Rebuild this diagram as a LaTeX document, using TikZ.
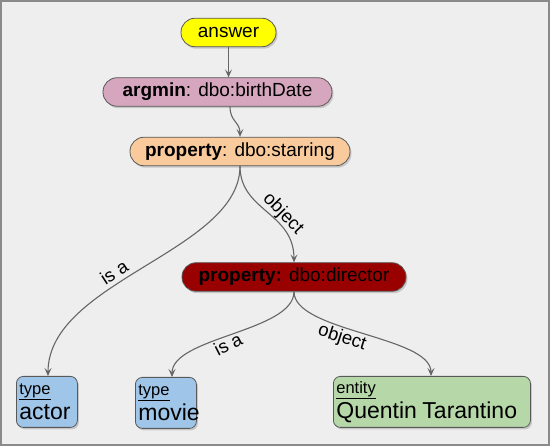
\documentclass[tikz,border=0pt]{standalone}
\usepackage{fontspec}
\setmainfont{Liberation Sans}
\usetikzlibrary{arrows.meta,shadows}
\definecolor{bgc}{HTML}{EEEEEE}
\definecolor{framec}{HTML}{8A8A8A}
\definecolor{linec}{HTML}{666666}
\definecolor{yel}{HTML}{FFFF00}
\definecolor{pinkc}{HTML}{D5A6BD}
\definecolor{orangec}{HTML}{F9CB9C}
\definecolor{redc}{HTML}{990000}
\definecolor{bluec}{HTML}{9FC5E8}
\definecolor{greenc}{HTML}{B6D7A8}
\newcommand{\bigtxt}{\fontsize{23}{25}\selectfont}
\tikzset{
  shadowed/.style={drop shadow={opacity=0.35,shadow xshift=1.5pt,shadow yshift=-2pt}},
  pill/.style={draw=black!65,line width=0.8pt,rounded corners=14pt,minimum height=28.5pt,inner sep=0pt,shadowed,font=\fontsize{19}{21}\selectfont},
  typebox/.style={draw=black!65,line width=0.8pt,rounded corners=7pt,fill=bluec,shadowed,inner xsep=3pt,inner ysep=4pt,align=left,minimum height=51pt,anchor=north west,font=\fontsize{16.5}{25}\selectfont},
  edge/.style={draw=linec,line width=1.1pt,-{Stealth[length=8pt,width=7pt,inset=3.5pt]}},
  elabel/.style={font=\fontsize{18.5}{20}\selectfont,inner sep=0pt}
}
\begin{document}
\begin{tikzpicture}[x=1pt,y=-1pt]
\fill[bgc] (0,0) rectangle (550,446);
\draw[framec,line width=2pt] (1,1) rectangle (549,445);
\useasboundingbox (0,0) rectangle (550,446);

\node[pill,fill=yel,minimum width=95pt] (ans) at (228.5,32.5) {answer};
\node[pill,fill=pinkc,minimum width=229pt] (argmin) at (217.5,92) {\textbf{argmin}: dbo:birthDate};
\node[pill,fill=orangec,minimum width=220pt] (star) at (240,151.5) {\textbf{property}: dbo:starring};
\node[pill,fill=redc,minimum width=224pt] (dir) at (294,277) {\textbf{property:} dbo:director\hspace{10pt}};

\node[typebox,text width=55pt] (actor) at (16,376) {\underline{type}\\{\bigtxt actor}};
\node[typebox,text width=55pt] (movie) at (135,377) {\underline{type}\\{\bigtxt movie}};
\node[typebox,fill=greenc,text width=191pt] (ent) at (333,376) {\underline{entity}\\{\bigtxt Quentin Tarantino}};

\draw[edge] (ans.south) -- (argmin.north -| ans.south);
\draw[edge] (argmin.south -| 230,0) .. controls +(0,15) and +(0,-15) .. (star.north);
\draw[edge] (star.south) .. controls +(0,45) and +(0,-50) .. (dir.north);
\draw[edge] (star.south) .. controls +(0,85) and +(0,-95) .. (actor.north -| 48,0);
\draw[edge] (dir.south) .. controls +(0,40) and +(0,-40) .. (movie.north -| 172,0);
\draw[edge] (dir.south) .. controls +(0,40) and +(0,-40) .. (ent.north -| 431,0);

\node[elabel,rotate=-46] (l1) at (283,214) {object};
\node[elabel,rotate=33] (l2) at (114,272) {is a};
\node[elabel,rotate=27] (l3) at (228,344) {is a};
\node[elabel,rotate=-18] (l4) at (342,338) {object};
\end{tikzpicture}
\end{document}
